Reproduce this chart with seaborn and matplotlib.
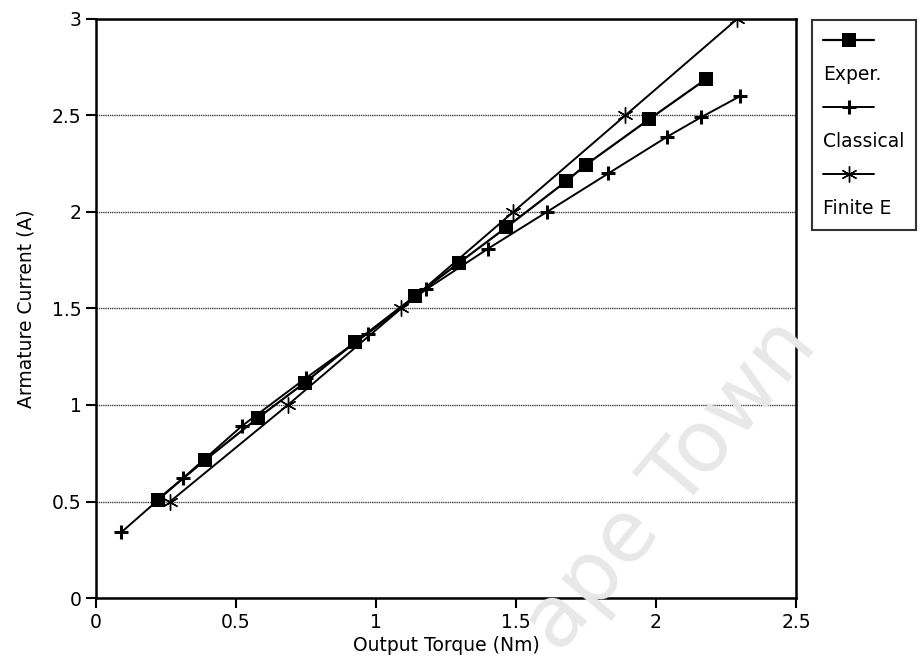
import numpy as np
import pandas as pd
import matplotlib
matplotlib.use("Agg")
import matplotlib.pyplot as plt
from matplotlib.lines import Line2D
from matplotlib.ticker import FuncFormatter, MultipleLocator
import seaborn as sns

# values
exper_torque = [0.22, 0.39, 0.58, 0.745, 0.925, 1.14, 1.295, 1.465, 1.68, 1.75, 1.975, 2.18]
exper_current = [0.51, 0.715, 0.935, 1.115, 1.325, 1.565, 1.735, 1.92, 2.16, 2.245, 2.48, 2.69]

classical_torque = [0.09, 0.31, 0.52, 0.75, 0.97, 1.18, 1.40, 1.61, 1.83, 2.04, 2.16, 2.30]
classical_current = [0.34, 0.62, 0.89, 1.14, 1.37, 1.60, 1.81, 2.00, 2.20, 2.39, 2.49, 2.60]

finite_torque = [0.265, 0.685, 1.09, 1.49, 1.89, 2.29]
finite_current = [0.5, 1.0, 1.5, 2.0, 2.5, 3.0]

labels = ["Exper.", "Classical", "Finite E"]

sns.set_style("white")
plt.rcParams["font.family"] = ["DejaVu Sans"]
plt.rcParams["font.size"] = 13.5
for k in ["text.color", "axes.labelcolor", "xtick.color", "ytick.color"]:
    plt.rcParams[k] = "black"

fig = plt.figure(figsize=(9.22, 6.72), dpi=100)
ax = fig.add_axes([96 / 922, 1 - 598 / 672, 700 / 922, 579 / 672])

# faint watermark behind the plot
fig.text(0.728, 0.278, "ape Town", rotation=50, fontsize=62, color="#e8e8e8",
         ha="center", va="center", zorder=0)
ax.set_facecolor("none")

sns.lineplot(x=exper_torque, y=exper_current, ax=ax, color="black", lw=1.6,
             marker="s", markersize=10, markeredgewidth=0, sort=False,
             estimator=None, label=labels[0])
sns.lineplot(x=classical_torque, y=classical_current, ax=ax, color="black", lw=1.4,
             marker="+", markersize=10.5, markeredgewidth=2.2, markeredgecolor="black",
             sort=False, estimator=None, label=labels[1])
sns.lineplot(x=finite_torque, y=finite_current, ax=ax, color="black", lw=1.4,
             marker=(6, 2, 0), markersize=11.5, markeredgewidth=1, markeredgecolor="black",
             sort=False, estimator=None, label=labels[2])

ax.set_xlim(0, 2.5)
ax.set_ylim(0, 3)
ax.xaxis.set_major_locator(MultipleLocator(0.5))
ax.yaxis.set_major_locator(MultipleLocator(0.5))
fmt = FuncFormatter(lambda v, p: "%g" % v)
ax.xaxis.set_major_formatter(fmt)
ax.yaxis.set_major_formatter(fmt)
ax.tick_params(direction="out", length=7, width=1.5, color="black", labelsize=13.5,
               bottom=True, left=True)
ax.grid(axis="y", color="0.25", linestyle=(0, (1, 0.6)), linewidth=1)
for s in ax.spines.values():
    s.set_color("black")
    s.set_linewidth(1.8)

ax.set_xlabel("Output Torque (Nm)", fontsize=13.5, labelpad=3)
ax.set_ylabel("Armature Current (A)", fontsize=13.5, labelpad=12)

# legend: line sample above each name
h, l = ax.get_legend_handles_labels()
ax.get_legend().remove()
blank = Line2D([], [], linestyle="none")
handles = [h[0], blank, h[1], blank, h[2], blank]
names = ["", labels[0], "", labels[1], "", labels[2]]
leg = fig.legend(handles, names, loc="upper left",
                 bbox_to_anchor=(812 / 922, 1 - 20 / 672),
                 bbox_transform=fig.transFigure, frameon=True, fancybox=False,
                 edgecolor="black", handlelength=2.7, handletextpad=-2.7,
                 labelspacing=0.78, borderpad=0.6, borderaxespad=0,
                 fontsize=13.5)
leg.get_frame().set_linewidth(1.5)

fig.savefig("out.png", dpi=100, facecolor="white")
